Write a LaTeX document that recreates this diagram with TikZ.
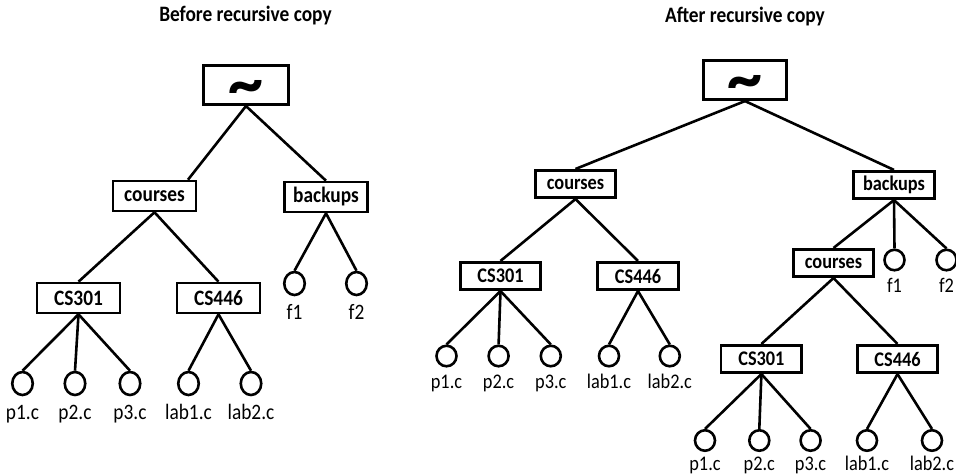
\documentclass[tikz,border=0pt]{standalone}
\usepackage{fontspec}
\usetikzlibrary{shapes.geometric}
\setmainfont{Carlito}
\newfontfamily\narrowsans[FakeStretch=0.88]{Carlito}
\begin{document}
\begin{tikzpicture}[x=1pt,y=-1pt,line width=2.6pt,
  title/.style={font=\fontsize{22}{22}\selectfont\narrowsans\bfseries},
  dirL/.style={draw,inner sep=0pt,minimum width=83pt,minimum height=30pt,font=\fontsize{22}{22}\selectfont\narrowsans\bfseries},
  dirR/.style={draw,inner sep=0pt,minimum width=80.5pt,minimum height=27.5pt,font=\fontsize{20.8}{20.8}\selectfont\narrowsans\bfseries},
  rootbox/.style={draw,inner sep=0pt,minimum width=84.5pt,minimum height=39.5pt,font=\fontsize{70}{70}\selectfont\bfseries},
  fileL/.style={draw,ellipse,inner sep=0pt,minimum width=20.5pt,minimum height=23pt},
  fileR/.style={draw,ellipse,inner sep=0pt,minimum width=20pt,minimum height=20.5pt},
  nameL/.style={anchor=base,inner sep=0pt,font=\fontsize{22}{22}\selectfont\narrowsans},
  nameR/.style={anchor=base,inner sep=0pt,font=\fontsize{20.8}{20.8}\selectfont\narrowsans},
  edge/.style={draw,line width=2.6pt}]
\useasboundingbox (0,0) rectangle (956,475);

% the home directory symbol, lowered onto the middle of its box
\newcommand{\homesym}{\smash{\raisebox{-21pt}{\char`\~}}}

% ---------------- tree before the copy ----------------
\node[title] (ltitle) at (245.5,16) {Before recursive copy};
\node[rootbox] (lroot) at (246,85) {\homesym};
\node[dirL] (lcourses) at (154.5,196) {courses};
\node[dirL] (lbackups) at (326,197) {backups};
\node[dirL] (lcs301) at (78.5,298) {CS301};
\node[dirL] (lcs446) at (218.5,298) {CS446};
\foreach \n/\x in {lp1/22.5,lp2/75,lp3/130,llab1/188.5,llab2/251}
  \node[fileL] (\n) at (\x,383.5) {};
\node[fileL] (lf1) at (294.5,283.5) {};
\node[fileL] (lf2) at (356.5,283.5) {};
\foreach \n/\t in {lp1/p1.c,lp2/p2.c,lp3/p3.c,llab1/lab1.c,llab2/lab2.c,lf1/f1,lf2/f2}
  \node[nameL] (\n-name) at ([yshift=-35.5pt]\n.center) {\t};

\path[edge] (lroot.south) -- ([xshift=33.5pt]lcourses.north);
\path[edge] (lroot.south) -- (lbackups.north);
\path[edge] (lcourses.south) -- (lcs301.north);
\path[edge] (lcourses.south) -- (lcs446.north);
\foreach \c in {lp1,lp2,lp3} \path[edge] (lcs301.south) -- (\c.north);
\foreach \c in {llab1,llab2} \path[edge] (lcs446.south) -- (\c.north);
\foreach \c in {lf1,lf2} \path[edge] (lbackups.south) -- (\c.north);

% ---------------- tree after the copy ----------------
\node[title] (rtitle) at (745,17) {After recursive copy};
\node[rootbox,minimum width=83.5pt] (rroot) at (745,80) {\homesym};
\node[dirR] (rcourses) at (575.5,184) {courses};
\node[dirR] (rbackups) at (894,185) {backups};
\node[dirR] (rcs301) at (500.5,276) {CS301};
\node[dirR] (rcs446) at (638,276) {CS446};
\foreach \n/\x in {rp1/446.5,rp2/498.6,rp3/550.8,rlab1/609,rlab2/669.8}
  \node[fileR] (\n) at (\x,356) {};
\node[dirR] (bcourses) at (833.5,263) {courses};
\node[fileR] (rf1) at (894.5,260) {};
\node[fileR] (rf2) at (946.5,260) {};
\node[dirR] (bcs301) at (761.4,359) {CS301};
\node[dirR] (bcs446) at (897.5,359) {CS446};
\foreach \n/\x in {bp1/705,bp2/759.3,bp3/810.6,blab1/867,blab2/932}
  \node[fileR] (\n) at (\x,440.5) {};
\foreach \n/\t in {rp1/p1.c,rp2/p2.c,rp3/p3.c,rlab1/lab1.c,rlab2/lab2.c,rf1/f1,rf2/f2}
  \node[nameR] (\n-name) at ([yshift=-32.5pt]\n.center) {\t};
\foreach \n/\t in {bp1/p1.c,bp2/p2.c,bp3/p3.c,blab1/lab1.c,blab2/lab2.c}
  \node[nameR] (\n-name) at ([yshift=-29.5pt]\n.center) {\t};

\path[edge] (rroot.south) -- (rcourses.north);
\path[edge] (rroot.south) -- (rbackups.north);
\path[edge] (rcourses.south) -- (rcs301.north);
\path[edge] (rcourses.south) -- (rcs446.north);
\foreach \c in {rp1,rp2,rp3} \path[edge] (rcs301.south) -- (\c.north);
\foreach \c in {rlab1,rlab2} \path[edge] (rcs446.south) -- (\c.north);
\path[edge] (rbackups.south) -- (bcourses.north);
\foreach \c in {rf1,rf2} \path[edge] (rbackups.south) -- (\c.north);
\path[edge] (bcourses.south) -- (bcs301.north);
\path[edge] (bcourses.south) -- (bcs446.north);
\foreach \c in {bp1,bp2,bp3} \path[edge] (bcs301.south) -- (\c.north);
\foreach \c in {blab1,blab2} \path[edge] (bcs446.south) -- (\c.north);
\end{tikzpicture}
\end{document}
